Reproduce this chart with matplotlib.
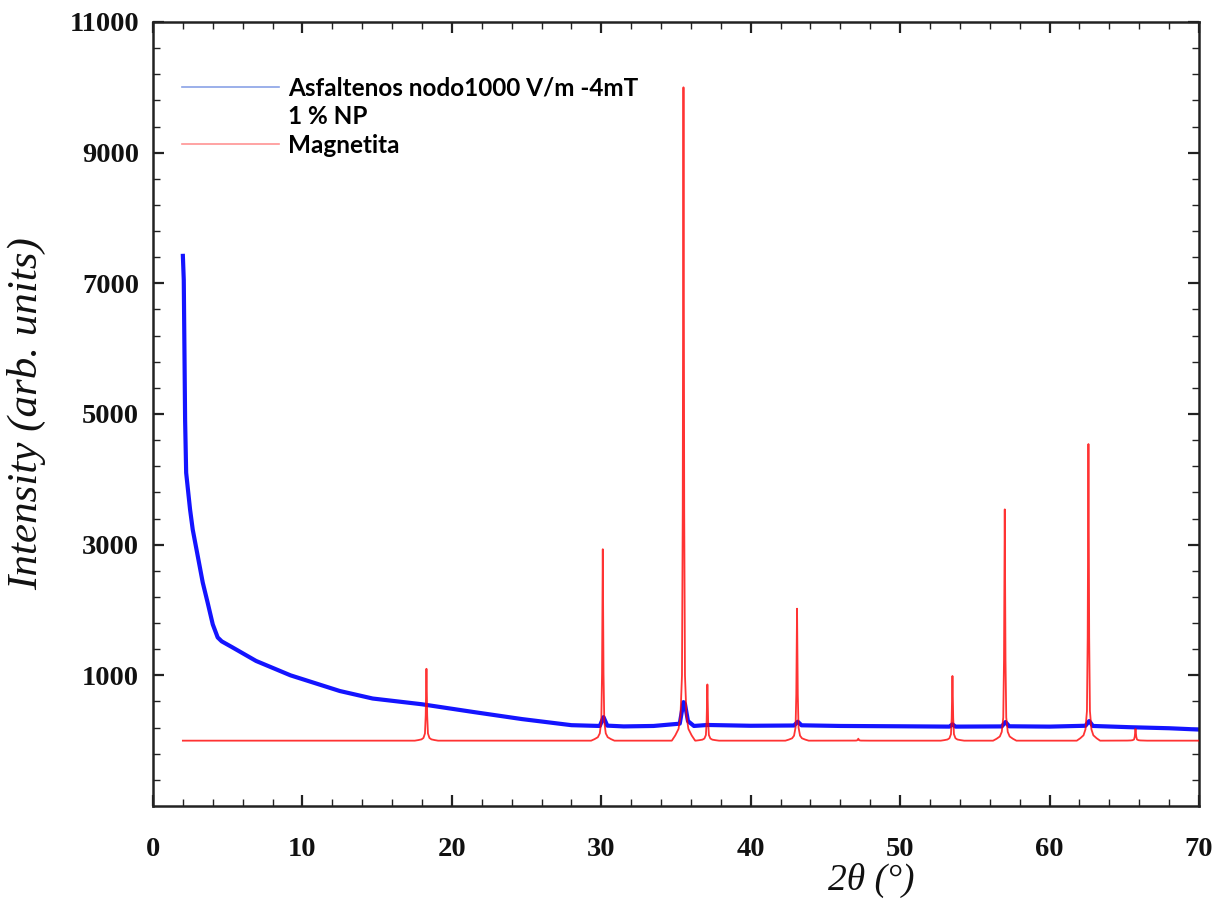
import numpy as np
import matplotlib
matplotlib.use("Agg")
import matplotlib.pyplot as plt
from matplotlib.lines import Line2D
from matplotlib.ticker import MultipleLocator, FixedLocator

# ---------------- data ----------------
# Asphaltene sample trace (2theta, intensity)
blue_x = [2.0, 2.06, 2.15, 2.22, 2.48, 2.66, 3.0, 3.33, 3.66, 4.0, 4.33, 4.6,
          5.3, 6.9, 9.2, 12.5, 14.7, 18.0, 21.4, 24.7, 28.0, 29.9, 30.15, 30.4,
          31.5, 33.5, 35.25, 35.5, 35.6, 35.8, 36.2, 37.1, 40.0, 42.9, 43.15,
          43.4, 46.0, 50.0, 53.3, 53.5, 53.7, 56.8, 57.05, 57.3, 60.0, 62.4,
          62.65, 62.9, 65.5, 68.0, 70.0]
blue_y = [7420, 7050, 4900, 4100, 3540, 3230, 2820, 2420, 2110, 1780, 1580, 1520,
          1430, 1220, 1000, 760, 645, 557, 440, 330, 237, 225, 360, 230,
          218, 225, 260, 590, 560, 300, 225, 240, 228, 232, 290,
          235, 225, 220, 215, 250, 215, 218, 285, 220, 215, 228,
          300, 225, 205, 190, 170]

# Magnetite reference pattern: peak positions and heights
red_pos = [18.3, 30.1, 35.5, 37.1, 43.1, 47.2, 53.5, 57.0, 62.6, 65.75]
red_h = [1100, 2930, 10000, 860, 2020, 30, 990, 3540, 4540, 180]
# peak outline read from the 35.5 deg peak: offset (deg) and fraction of height
prof_dx = [-0.78, -0.55, -0.33, -0.2, -0.1, -0.05, 0.0, 0.05, 0.1, 0.2, 0.33, 0.55, 0.78]
prof_f = [0.0, 0.008, 0.018, 0.038, 0.1, 0.35, 1.0, 0.35, 0.1, 0.038, 0.018, 0.008, 0.0]
red_start, red_end = 2.0, 70.0

legend_labels = ["Asfaltenos nodo1000 V/m -4mT", "1 % NP", "Magnetita"]
x_ticks = [0, 10, 20, 30, 40, 50, 60, 70]
y_ticks = [1000, 3000, 5000, 7000, 9000, 11000]

# build the magnetite trace from its peaks
rx = [red_start]
ry = [0.0]
for p, h in zip(red_pos, red_h):
    for dx, f in zip(prof_dx, prof_f):
        rx.append(p + dx)
        ry.append(h * f)
rx.append(red_end)
ry.append(0.0)

# ---------------- figure ----------------
fig = plt.figure(figsize=(12.2, 9.05), dpi=100)
ax = fig.add_axes([0.1254, 0.1094, 0.8574, 0.8663])

ax.plot(blue_x, blue_y, color="#1414ff", lw=3.0, solid_joinstyle="round", zorder=2)
ax.plot(rx, ry, color="red", lw=1.3, alpha=0.8, zorder=3)

ax.set_xlim(0, 70)
ax.set_ylim(-1000, 11000)
ax.xaxis.set_major_locator(FixedLocator(x_ticks))
ax.xaxis.set_minor_locator(MultipleLocator(2))
ax.yaxis.set_major_locator(FixedLocator(y_ticks))
ax.yaxis.set_minor_locator(FixedLocator(np.arange(-600, 11000, 400)))

ax.tick_params(which="both", direction="in", top=True, right=True, colors="#222222")
ax.tick_params(which="major", length=8, width=1.6)
ax.tick_params(which="minor", length=5, width=1.0)
ax.tick_params(axis="y", which="major", pad=10)
ax.tick_params(axis="x", which="major", pad=22)
for sp in ax.spines.values():
    sp.set_linewidth(1.8)
    sp.set_color("#222222")

for lab in ax.get_xticklabels() + ax.get_yticklabels():
    lab.set_fontfamily("Liberation Serif")
    lab.set_fontweight("bold")
    lab.set_fontsize(20.5)
    lab.set_color("#111111")

ax.set_ylabel("Intensity (arb. units)", fontfamily="Liberation Serif",
              fontstyle="italic", fontsize=31, color="#111111")
ax.yaxis.set_label_coords(-0.102, 0.5)
ax.set_xlabel("2θ (°)", fontfamily="Liberation Serif", fontstyle="italic",
              fontsize=27, color="#111111")
ax.xaxis.set_label_coords(0.687, -0.073)

handles = [Line2D([], [], color="#8aa2e6", lw=1.2),
           Line2D([], [], color="none", lw=0),
           Line2D([], [], color="#ff9494", lw=1.2)]
leg = ax.legend(handles, legend_labels, loc="upper left",
                bbox_to_anchor=(0.028, 0.931), frameon=False,
                prop={"family": "Lato", "weight": "bold", "size": 17.5},
                handlelength=4.0, handletextpad=0.35, labelspacing=0.24,
                borderpad=0, borderaxespad=0)

fig.savefig("out.png", dpi=100)
